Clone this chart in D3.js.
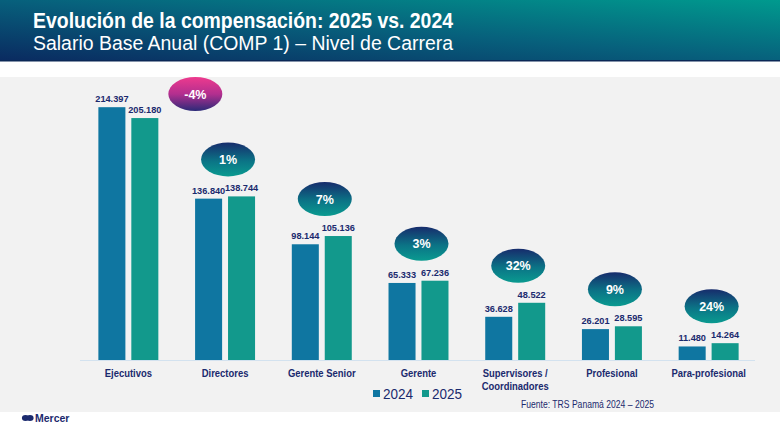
<!DOCTYPE html>
<html>
<head>
<meta charset="utf-8">
<script src="https://cdn.jsdelivr.net/npm/d3@7/dist/d3.min.js"></script>
<style>
  html, body { margin: 0; padding: 0; background: #ffffff; }
  svg { display: block; }
</style>
</head>
<body>
<svg id="chart" width="780" height="435"></svg>
<script>
// ---- Data ----
const categories = ["Ejecutivos", "Directores", "Gerente Senior", "Gerente", "Supervisores / Coordinadores", "Profesional", "Para-profesional"];
const categoryLines = [["Ejecutivos"], ["Directores"], ["Gerente Senior"], ["Gerente"], ["Supervisores /", "Coordinadores"], ["Profesional"], ["Para-profesional"]];
const seriesNames = ["2024", "2025"];
const values2024 = [214397, 136840, 98144, 65333, 36628, 26201, 11480];
const values2025 = [205180, 138744, 105136, 67236, 48522, 28595, 14264];
const changeLabels = ["-4%", "1%", "7%", "3%", "32%", "9%", "24%"];
const titleText = "Evolución de la compensación: 2025 vs. 2024";
const subtitleText = "Salario Base Anual (COMP 1) – Nivel de Carrera";
const sourceText = "Fuente: TRS Panamá  2024 – 2025";

// ---- Setup ----
const W = 780, H = 435;
const svg = d3.select("#chart");
const navy = "#1b2a6e";
const colors = { "2024": "#0f76a1", "2025": "#12998c" };
const sans = "'Liberation Sans', Arial, Helvetica, sans-serif";
const es = d3.formatLocale({ decimal: ",", thousands: ".", grouping: [3], currency: ["", ""] });
const fmt = es.format(",.0f");

// condense a text/tspan horizontally (emulates a narrow typeface)
function condense(sel, factor) {
  sel.each(function () {
    const len = this.getComputedTextLength();
    d3.select(this).attr("textLength", len * factor).attr("lengthAdjust", "spacingAndGlyphs");
  });
}

const defs = svg.append("defs");
const hg = defs.append("linearGradient").attr("id", "hdr").attr("x1", "0").attr("y1", "1").attr("x2", "1").attr("y2", "0");
hg.append("stop").attr("offset", "0").attr("stop-color", "#0a2a60");
hg.append("stop").attr("offset", "0.5").attr("stop-color", "#07607c");
hg.append("stop").attr("offset", "1").attr("stop-color", "#009a8e");

const tg = defs.append("linearGradient").attr("id", "teal").attr("x1", "0").attr("y1", "0").attr("x2", "0").attr("y2", "1");
tg.append("stop").attr("offset", "0").attr("stop-color", "#172c6c");
tg.append("stop").attr("offset", "0.55").attr("stop-color", "#0b7486");
tg.append("stop").attr("offset", "1").attr("stop-color", "#0a9a90");

const mg = defs.append("linearGradient").attr("id", "mag").attr("x1", "0").attr("y1", "0").attr("x2", "0").attr("y2", "1");
mg.append("stop").attr("offset", "0").attr("stop-color", "#ee3a8e");
mg.append("stop").attr("offset", "0.5").attr("stop-color", "#b32f8f");
mg.append("stop").attr("offset", "1").attr("stop-color", "#2b2a78");

// Header
svg.append("rect").attr("x", 0).attr("y", 0).attr("width", W).attr("height", 61).attr("fill", "url(#hdr)");
svg.append("rect").attr("x", 0).attr("y", 60).attr("width", W).attr("height", 1.5).attr("fill", "#0b2856");
const title = svg.append("text").attr("x", 33).attr("y", 28).attr("fill", "#fff")
  .attr("font-family", sans).attr("font-weight", "bold").attr("font-size", 22).text(titleText);
title.attr("textLength", 420).attr("lengthAdjust", "spacingAndGlyphs");
const sub = svg.append("text").attr("x", 33).attr("y", 50).attr("fill", "#fff")
  .attr("font-family", sans).attr("font-size", 20).text(subtitleText);
sub.attr("textLength", 420).attr("lengthAdjust", "spacingAndGlyphs");

// Panel
svg.append("rect").attr("x", 0).attr("y", 77).attr("width", W).attr("height", 335).attr("fill", "#f2f2f2");

// Scales
const x0 = d3.scaleBand().domain(categories).range([80, 757]).paddingInner(0.38).paddingOuter(0.19);
const x1 = d3.scaleBand().domain(seriesNames).range([0, x0.bandwidth()]).paddingInner(0.18);
const y = d3.scaleLinear().domain([0, 240000]).range([360, 77]);

const rows = categories.map((c, i) => ({ cat: c, i, vals: [values2024[i], values2025[i]], change: changeLabels[i] }));

// Baseline
svg.append("line").attr("x1", x0.range()[0]).attr("x2", x0.range()[1] - 2)
  .attr("y1", y(0) + 0.5).attr("y2", y(0) + 0.5).attr("stroke", "#d3e2ef").attr("stroke-width", 1.2);

// Bars
const g = svg.append("g");
const groups = g.selectAll("g.grp").data(rows).join("g").attr("class", "grp")
  .attr("transform", d => `translate(${x0(d.cat)},0)`);
groups.selectAll("rect").data(d => d.vals.map((v, k) => ({ s: seriesNames[k], v })))
  .join("rect")
  .attr("x", d => x1(d.s)).attr("y", d => y(d.v))
  .attr("width", x1.bandwidth()).attr("height", d => y(0) - y(d.v))
  .attr("fill", d => colors[d.s]);
groups.selectAll("text.val").data(d => d.vals.map((v, k) => ({ s: seriesNames[k], v })))
  .join("text").attr("class", "val")
  .attr("x", d => x1(d.s) + x1.bandwidth() / 2).attr("y", d => y(d.v) - 5)
  .attr("text-anchor", "middle").attr("fill", navy)
  .attr("font-family", sans).attr("font-weight", "bold").attr("font-size", 9.2)
  .text(d => fmt(d.v));

// Change ellipses
const ann = svg.append("g");
rows.forEach(d => {
  const cx0 = x0(d.cat) + x0.bandwidth() / 2;
  const top = y(d3.max(d.vals));
  let cx = cx0 + 3, cy = top - 37;
  if (cy - 17 < y.range()[1]) { // no room above: place beside the group
    cx = x0(d.cat) + x0.bandwidth() + 37;
    cy = y(d.vals[1]) - 24;
  }
  const neg = d.vals[1] < d.vals[0];
  ann.append("ellipse").attr("cx", cx).attr("cy", cy).attr("rx", 27).attr("ry", 17)
    .attr("fill", neg ? "url(#mag)" : "url(#teal)");
  ann.append("text").attr("x", cx).attr("y", cy + 4.5).attr("text-anchor", "middle")
    .attr("fill", "#fff").attr("font-family", sans).attr("font-weight", "bold").attr("font-size", 12.5)
    .text(d.change);
});

// Category labels
const cl = svg.append("g");
rows.forEach((d, i) => {
  const cx = x0(d.cat) + x0.bandwidth() / 2;
  const t = cl.append("text").attr("x", cx).attr("y", 377).attr("text-anchor", "middle")
    .attr("fill", navy).attr("font-family", sans).attr("font-weight", "bold").attr("font-size", 11.5);
  categoryLines[i].forEach((ln, j) => {
    t.append("tspan").attr("x", cx).attr("dy", j === 0 ? 0 : 12.5).text(ln);
  });
  condense(t.selectAll("tspan"), 0.82);
});

// Legend
const leg = svg.append("g");
const legX = [373, 422];
seriesNames.forEach((s, k) => {
  leg.append("rect").attr("x", legX[k]).attr("y", 390).attr("width", 7).attr("height", 7).attr("fill", colors[s]);
  const lt = leg.append("text").attr("x", legX[k] + 10).attr("y", 399).attr("fill", navy)
    .attr("font-family", sans).attr("font-size", 15).text(s);
  condense(lt, 0.9);
});

// Source
const src = svg.append("text").attr("x", 521).attr("y", 408).attr("fill", navy)
  .attr("font-family", sans).attr("font-size", 10.5).text(sourceText);
src.attr("textLength", 133).attr("lengthAdjust", "spacingAndGlyphs");

// Mercer logo
const lg = svg.append("g");
lg.append("ellipse").attr("cx", 25.5).attr("cy", 418).attr("rx", 3.6).attr("ry", 3).attr("fill", navy);
lg.append("ellipse").attr("cx", 30).attr("cy", 418).attr("rx", 3.6).attr("ry", 3).attr("fill", navy);
lg.append("text").attr("x", 35).attr("y", 422).attr("fill", navy)
  .attr("font-family", sans).attr("font-weight", "bold").attr("font-size", 10.5).text("Mercer");
</script>
</body>
</html>
